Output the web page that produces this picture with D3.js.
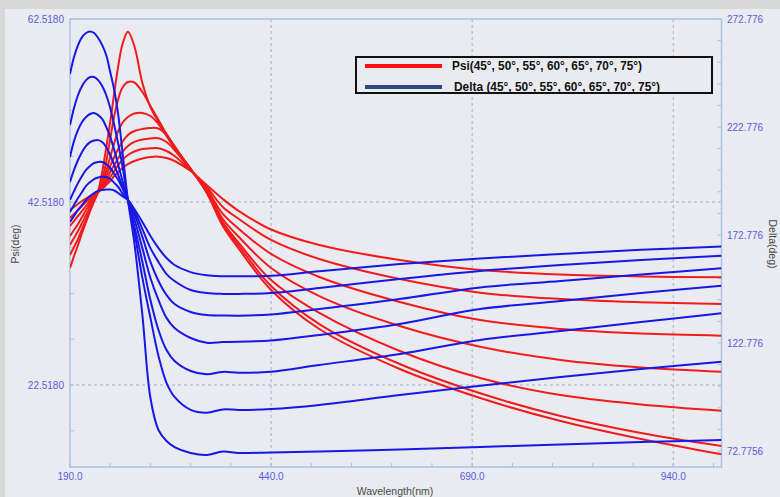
<!DOCTYPE html>
<html><head><meta charset="utf-8">
<script src="https://cdn.jsdelivr.net/npm/d3@7"></script>
<style>body{margin:0;background:#d7d7d7;} svg{display:block}</style>
</head><body><svg id="c" width="780" height="497"></svg>
<script>
// ---- data ----
const wavelengths = [190,195,200,205,210,215,220,225,230,235,240,245,250,255,262,270,280,290,300,310,320,340,360,380,400,440,500,600,700,800,900,1000];

const psi1 = [35.31,36.61,37.82,39.13,40.33,41.54,42.63,43.72,45.79,48.42,51.26,54.43,57.38,59.68,61.13,59.57,55.52,52.90,51.26,49.73,48.42,46.13,43.50,39.89,37.38,32.90,28.64,24.27,21.10,18.58,16.62,14.94];
const psi2 = [36.73,37.60,38.48,39.57,40.61,41.64,42.63,43.61,44.92,46.89,49.40,51.92,53.78,54.98,55.63,55.58,54.54,53.01,51.48,49.95,48.53,46.13,43.61,40.11,37.71,33.34,29.18,24.81,21.61,19.13,17.27,15.85];
const psi3 = [37.82,38.58,39.35,40.22,41.09,41.97,42.79,43.61,44.60,45.91,47.44,48.97,50.28,51.15,51.81,52.19,52.25,51.92,51.04,49.84,48.53,46.13,43.72,40.33,38.04,33.99,30.39,26.23,23.28,21.42,20.39,19.71];
const psi4 = [38.80,39.46,40.11,40.88,41.64,42.30,42.96,43.61,44.38,45.36,46.45,47.44,48.31,49.08,49.84,50.28,50.50,50.61,50.55,49.84,48.64,46.07,43.83,40.66,38.69,35.31,32.24,28.97,26.70,25.25,24.43,23.97];
const psi5 = [39.90,40.44,40.99,41.54,42.08,42.63,43.12,43.61,44.16,44.92,45.80,46.56,47.33,47.98,48.64,49.08,49.35,49.46,49.48,49.08,48.20,46.02,43.94,41.21,39.57,36.84,34.32,31.59,29.62,28.64,28.14,27.91];
const psi6 = [40.77,41.21,41.64,42.08,42.52,42.90,43.28,43.61,44.05,44.60,45.25,45.91,46.56,47.11,47.66,48.04,48.31,48.38,48.39,48.09,47.55,45.96,44.16,41.97,40.66,38.37,36.29,34.10,32.61,31.92,31.57,31.37];
const psi7 = [41.64,41.97,42.30,42.63,42.90,43.17,43.39,43.61,43.94,44.38,44.81,45.36,45.80,46.24,46.67,47.00,47.27,47.44,47.47,47.33,47.00,45.91,44.38,42.85,41.53,39.51,37.82,36.18,35.09,34.59,34.38,34.29];

const delta1 = [247.3,255.2,260.7,264.4,266.3,267.0,266.3,264.0,260.7,256.1,248.2,239.9,228.3,212.1,189.0,169.1,135.7,97.3,82.5,77.4,74.6,71.85,70.9,72.5,71.85,72.1,72.5,73.5,74.6,75.8,76.9,77.9];
const delta2 = [223.7,231.6,237.6,241.8,244.5,245.9,245.9,244.5,241.8,237.6,231.6,223.7,214.9,205.2,189.0,174.2,152.9,134.4,116.8,104.3,97.8,91.8,90.5,92.0,91.8,92.2,94.1,98.7,103.0,107.0,110.7,114.1];
const delta3 = [208.9,216.3,221.4,225.1,227.4,228.8,229.3,228.3,226.5,222.8,218.2,212.1,205.2,198.2,189.0,176.9,160.3,142.7,128.8,119.5,114.4,109.8,108.3,109.4,109.0,109.5,112.6,117.7,124.2,128.3,132.5,136.5];
const delta4 = [197.3,202.9,207.5,211.2,214.0,215.8,216.5,216.7,215.8,213.5,209.8,205.2,200.5,195.5,189.0,180.2,166.7,152.9,142.7,134.4,129.7,125.1,122.9,123.2,123.4,123.9,126.5,131.6,138.5,142.2,145.9,149.3];
const delta5 = [189.0,193.1,196.9,200.1,202.9,204.7,206.1,206.6,206.6,205.6,203.8,201.0,198.2,194.5,189.0,182.5,171.9,160.3,151.5,145.0,140.8,137.1,135.7,135.5,135.4,136.0,138.5,143.1,148.5,151.5,154.5,157.4];
const delta6 = [183.4,186.7,189.9,192.7,195.5,197.3,198.7,199.4,199.8,199.6,198.7,196.9,195.0,192.2,189.0,183.9,175.5,166.7,160.3,154.7,151.5,147.3,145.9,145.5,145.5,145.9,148.2,152.4,156.1,158.9,161.2,163.2];
const delta7 = [178.8,181.6,184.4,186.7,189.0,190.8,192.2,193.2,193.6,193.8,193.8,193.4,192.2,190.8,189.0,184.8,178.8,172.3,166.7,162.1,158.9,155.6,154.1,153.7,153.7,153.9,156.0,159.3,161.9,164.0,165.9,167.4];

const xTicks = [190, 440, 690, 940];
const psiTicks = [62.518, 42.518, 22.518];
const deltaTicks = [272.776, 222.776, 172.776, 122.776, 72.7756];
const psiTickLabels = ["62.5180", "42.5180", "22.5180"];
const deltaTickLabels = ["272.776", "222.776", "172.776", "122.776", "72.7756"];
const legendLabels = ["Psi(45°, 50°, 55°, 60°, 65°, 70°, 75°)", "Delta (45°, 50°, 55°, 60°, 65°, 70°, 75°)"];

const psiSeries = [psi1, psi2, psi3, psi4, psi5, psi6, psi7];
const deltaSeries = [delta1, delta2, delta3, delta4, delta5, delta6, delta7];

// ---- layout ----
const W = 780, H = 497;
const L = 70, R = 721.5, T = 19, B = 467;
const svg = d3.select("#c");
const tickColor = "#5c5ce0";
const frameColor = "#a9c2e3";
const gridColor = "#98b3d6";

svg.append("rect").attr("x", 0).attr("y", 0).attr("width", W).attr("height", H).attr("fill", "#d7d7d7");
svg.append("rect").attr("x", 5).attr("y", 9).attr("width", W - 5).attr("height", H - 9).attr("fill", "#e9ebf0");

const x = d3.scaleLinear().domain([190, 1000]).range([L, R]);
const yPsi = d3.scaleLinear().domain([13.558, 62.518]).range([B, T]);
const yDelta = d3.scaleLinear().domain([65.37, 272.776]).range([B, T]);

// grid
const g = svg.append("g");
g.selectAll(".gy").data(psiTicks.slice(1)).join("line")
  .attr("x1", L).attr("x2", R).attr("y1", d => yPsi(d)).attr("y2", d => yPsi(d))
  .attr("stroke", gridColor).attr("stroke-dasharray", "3,3").attr("stroke-width", 1);
g.selectAll(".gx").data(xTicks.slice(1)).join("line")
  .attr("y1", T).attr("y2", B).attr("x1", d => x(d)).attr("x2", d => x(d))
  .attr("stroke", gridColor).attr("stroke-dasharray", "3,3").attr("stroke-width", 1);

// minor ticks (inward)
const minorX = d3.range(190, 1001, 50);
svg.append("g").selectAll("line").data(minorX).join("line")
  .attr("x1", d => x(d)).attr("x2", d => x(d)).attr("y1", B).attr("y2", B - 4)
  .attr("stroke", frameColor).attr("stroke-width", 1);
const minorPsi = d3.range(62.518, 13.5, -5);
svg.append("g").selectAll("line").data(minorPsi).join("line")
  .attr("x1", L).attr("x2", L + 4).attr("y1", d => yPsi(d)).attr("y2", d => yPsi(d))
  .attr("stroke", frameColor).attr("stroke-width", 1);
const minorDelta = d3.range(272.776, 65, -10);
svg.append("g").selectAll("line").data(minorDelta).join("line")
  .attr("x1", R).attr("x2", R - 4).attr("y1", d => yDelta(d)).attr("y2", d => yDelta(d))
  .attr("stroke", frameColor).attr("stroke-width", 1);

// frame
svg.append("rect").attr("x", L).attr("y", T).attr("width", R - L).attr("height", B - T)
  .attr("fill", "none").attr("stroke", frameColor).attr("stroke-width", 1.5);

// curves
svg.append("clipPath").attr("id", "clip").append("rect")
  .attr("x", L).attr("y", T).attr("width", R - L).attr("height", B - T);
const plot = svg.append("g").attr("clip-path", "url(#clip)");

const linePsi = d3.line().x((d, i) => x(wavelengths[i])).y(d => yPsi(d)).curve(d3.curveCatmullRom.alpha(0.5));
const lineDelta = d3.line().x((d, i) => x(wavelengths[i])).y(d => yDelta(d)).curve(d3.curveCatmullRom.alpha(0.5));

plot.selectAll(".psi").data(psiSeries).join("path")
  .attr("d", linePsi).attr("fill", "none").attr("stroke", "#f21b1b").attr("stroke-width", 2);
plot.selectAll(".delta").data(deltaSeries).join("path")
  .attr("d", lineDelta).attr("fill", "none").attr("stroke", "#1818e6").attr("stroke-width", 2);

// tick labels
const font = "'Liberation Sans', Arial, sans-serif";
svg.append("g").selectAll("text").data(psiTicks).join("text")
  .attr("x", 64).attr("y", d => yPsi(d)).attr("dy", "0.35em").attr("text-anchor", "end")
  .attr("font-family", font).attr("font-size", 10).attr("fill", tickColor)
  .text((d, i) => psiTickLabels[i]);
svg.append("g").selectAll("text").data(deltaTicks).join("text")
  .attr("x", 727).attr("y", d => yDelta(d)).attr("dy", "0.35em").attr("text-anchor", "start")
  .attr("font-family", font).attr("font-size", 10).attr("fill", tickColor)
  .text((d, i) => deltaTickLabels[i]);
svg.append("g").selectAll("text").data(xTicks).join("text")
  .attr("x", d => x(d)).attr("y", 480).attr("text-anchor", "middle")
  .attr("font-family", font).attr("font-size", 10).attr("fill", tickColor)
  .text(d => d3.format(".1f")(d));

// axis titles
svg.append("text").attr("x", 395).attr("y", 495).attr("text-anchor", "middle")
  .attr("font-family", font).attr("font-size", 10.5).attr("fill", "#4a4a4a").text("Wavelength(nm)");
svg.append("text").attr("transform", "translate(19,244) rotate(-90)").attr("text-anchor", "middle")
  .attr("font-family", font).attr("font-size", 10.5).attr("fill", "#4a4a4a").text("Psi(deg)");
svg.append("text").attr("transform", "translate(769,244) rotate(90)").attr("text-anchor", "middle")
  .attr("font-family", font).attr("font-size", 10.5).attr("fill", "#4a4a4a").text("Delta(deg)");

// legend
const lg = svg.append("g");
lg.append("rect").attr("x", 356).attr("y", 57).attr("width", 356).attr("height", 36)
  .attr("fill", "#e9ebf0").attr("stroke", "#111").attr("stroke-width", 2);
const legendColors = ["#ff0d0d", "#2e4a7d"];
legendLabels.forEach((lab, i) => {
  const yy = 66 + i * 21;
  lg.append("line").attr("x1", 365).attr("x2", 442).attr("y1", yy).attr("y2", yy)
    .attr("stroke", legendColors[i]).attr("stroke-width", 4);
  lg.append("text").attr("x", i === 0 ? 452 : 454).attr("y", yy).attr("dy", "0.35em")
    .attr("font-family", font).attr("font-weight", "bold").attr("font-size", 12).attr("fill", "#111")
    .attr("textLength", i === 0 ? 190 : 206).attr("lengthAdjust", "spacingAndGlyphs")
    .text(lab);
});
</script></body></html>
